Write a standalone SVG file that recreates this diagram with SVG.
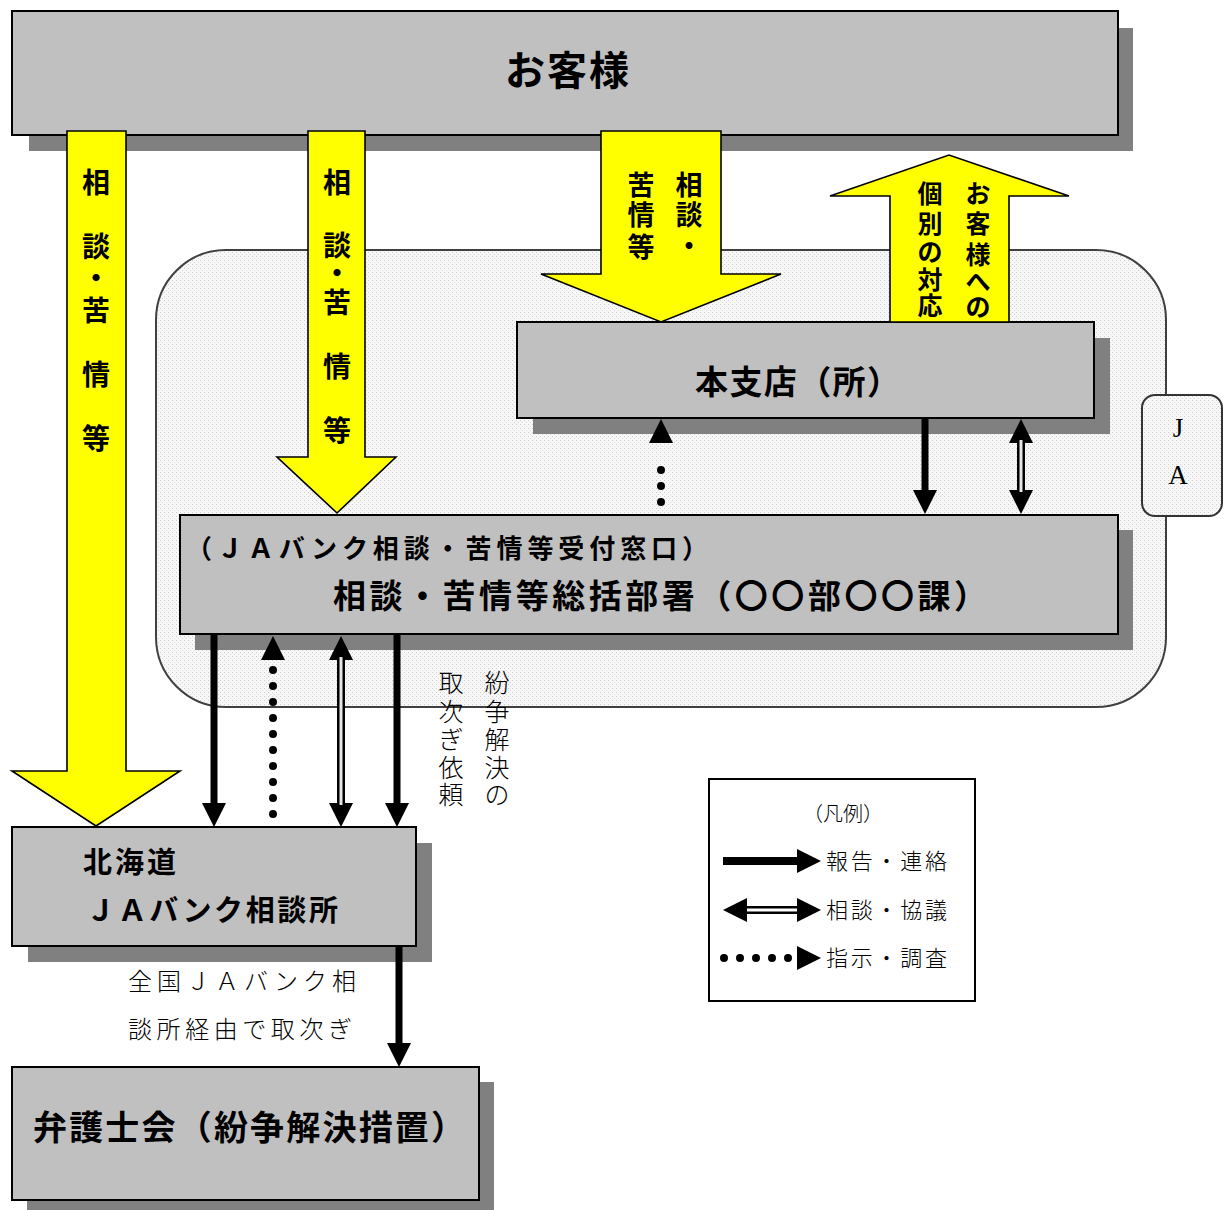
<svg xmlns="http://www.w3.org/2000/svg" width="1226" height="1210" viewBox="0 0 1226 1210">
<style>
.box{fill:#c0c0c0;stroke:#000;stroke-width:2}
.shadow{fill:#808080}
.ya{fill:#ffff00;stroke:#000;stroke-width:1.6;stroke-linejoin:miter}
.g{font-family:"Noto Sans CJK JP","Noto Sans",sans-serif;fill:#000;font-weight:700}
.m{font-family:"Liberation Serif","Noto Sans CJK JP",serif;font-weight:300;fill:#000}
.v{text-anchor:middle;dominant-baseline:central}
.thick{stroke:#000;stroke-width:7;fill:none}
.dbl{stroke:#000;stroke-width:8;fill:none}
.dblin{stroke:#e6e6e6;stroke-width:3;fill:none}
.dot{stroke:#000;stroke-width:8;stroke-linecap:round;stroke-dasharray:0 16;fill:none}
</style>
<defs>
<pattern id="dots" width="4" height="4" patternUnits="userSpaceOnUse">
<rect width="4" height="4" fill="#f7f7f7"/>
<rect width="1" height="1" fill="#cdcdcd"/>
<rect x="2" y="2" width="1" height="1" fill="#d8d8d8"/>
</pattern>
<marker id="ah" viewBox="0 0 24 24" refX="0" refY="12" markerWidth="24" markerHeight="24" markerUnits="userSpaceOnUse" orient="auto-start-reverse">
<path d="M0,0 L24,12 L0,24 z" fill="#000"/>
</marker>
</defs>
<rect width="1226" height="1210" fill="#fff"/>

<g id="ja-container">
<rect x="156" y="250" width="1010" height="457" rx="70" fill="url(#dots)" stroke="#404040" stroke-width="2"/>
</g>
<g id="ja-label">
<rect x="1142" y="395" width="80" height="121" rx="13" fill="url(#dots)" stroke="#333" stroke-width="2"/>
<text x="1178" y="437" class="m" font-size="27" text-anchor="middle">J</text>
<text x="1178" y="484" class="m" font-size="27" text-anchor="middle">A</text>
</g>

<g id="customer">
<rect class="shadow" x="29" y="28" width="1104" height="123"/>
<rect class="box" x="12" y="11" width="1106" height="124"/>
<text x="505" y="85" class="g" font-size="40" textLength="124">お客様</text>
</g>

<g id="branch">
<rect class="shadow" x="533" y="338" width="577" height="96"/>
<rect class="box" x="517" y="322" width="577" height="96"/>
<text x="695" y="394" class="g" font-size="33" textLength="205">本支店（所）</text>
</g>

<g id="dept">
<rect class="shadow" x="195" y="530" width="938" height="120"/>
<rect class="box" x="180" y="515" width="938" height="119"/>
<text x="186" y="558" class="g" font-size="26" textLength="522">（ＪＡバンク相談・苦情等受付窓口）</text>
<text x="333" y="608" class="g" font-size="33" textLength="654">相談・苦情等総括部署（〇〇部〇〇課）</text>
</g>

<g id="hokkaido">
<rect class="shadow" x="28" y="843" width="404" height="119"/>
<rect class="box" x="12" y="827" width="404" height="119"/>
<text x="83" y="873" class="g" font-size="29" textLength="93">北海道</text>
<text x="86" y="921" class="g" font-size="29" textLength="252">ＪＡバンク相談所</text>
</g>

<g id="bengoshi">
<rect class="shadow" x="27" y="1082" width="467" height="133"/>
<rect class="box" x="12" y="1067" width="467" height="133"/>
<text x="33" y="1140" class="g" font-size="34" textLength="432">弁護士会（紛争解決措置）</text>
</g>

<g id="yellow-arrows">
<g id="ya1">
<polygon class="ya" points="67,131 126,131 126,771 180,771 96,826 12,771 67,771"/>
<text class="g v" font-size="28"><tspan x="96" y="181">相</tspan><tspan x="96" y="245">談</tspan><tspan x="96" y="277">・</tspan><tspan x="96" y="309">苦</tspan><tspan x="96" y="373">情</tspan><tspan x="96" y="437">等</tspan></text>
</g>
<g id="ya2">
<polygon class="ya" points="308,131 365,131 365,457 396,457 337,513 277,457 308,457"/>
<text class="g v" font-size="28"><tspan x="337" y="181">相</tspan><tspan x="337" y="244">談</tspan><tspan x="337" y="272">・</tspan><tspan x="337" y="301">苦</tspan><tspan x="337" y="365">情</tspan><tspan x="337" y="429">等</tspan></text>
</g>
<g id="ya3">
<polygon class="ya" points="601,131 721,131 721,274 781,274 661,322 541,274 601,274"/>
<text class="g v" font-size="27"><tspan x="689" y="183">相</tspan><tspan x="689" y="213">談</tspan><tspan x="689" y="244">・</tspan><tspan x="641" y="183">苦</tspan><tspan x="641" y="213">情</tspan><tspan x="641" y="245">等</tspan></text>
</g>
<g id="ya4">
<polygon class="ya" points="890,322 1009,322 1009,196 1069,196 949,155 830,196 890,196"/>
<text class="g v" font-size="25"><tspan x="978" y="192">お</tspan><tspan x="978" y="222">客</tspan><tspan x="978" y="253">様</tspan><tspan x="978" y="280">へ</tspan><tspan x="978" y="305">の</tspan><tspan x="930" y="192">個</tspan><tspan x="930" y="222">別</tspan><tspan x="930" y="250">の</tspan><tspan x="930" y="278">対</tspan><tspan x="930" y="304">応</tspan></text>
</g>
</g>

<g id="connectors">
<line class="dot" x1="661" y1="502" x2="661" y2="454"/>
<polygon points="649,443 673,443 661,419" fill="#000"/>
<line class="thick" x1="925" y1="418" x2="925" y2="490" marker-end="url(#ah)"/>
<line class="dbl" x1="1021" y1="443" x2="1021" y2="490" marker-start="url(#ah)" marker-end="url(#ah)"/>
<line class="dblin" x1="1021" y1="440" x2="1021" y2="492"/>

<line class="thick" x1="214" y1="634" x2="214" y2="803" marker-end="url(#ah)"/>
<line class="dot" x1="273" y1="670" x2="273" y2="815"/>
<polygon points="261,660 285,660 273,636" fill="#000"/>
<line class="dbl" x1="341" y1="660" x2="341" y2="803" marker-start="url(#ah)" marker-end="url(#ah)"/>
<line class="dblin" x1="341" y1="657" x2="341" y2="805"/>
<line class="thick" x1="397" y1="634" x2="397" y2="803" marker-end="url(#ah)"/>

<line class="thick" x1="399" y1="946" x2="399" y2="1043" marker-end="url(#ah)"/>
</g>

<g id="labels">
<text class="m v" font-size="25"><tspan x="497" y="683">紛</tspan><tspan x="497" y="712">争</tspan><tspan x="497" y="740">解</tspan><tspan x="497" y="768">決</tspan><tspan x="497" y="795">の</tspan></text>
<text class="m v" font-size="25"><tspan x="451" y="683">取</tspan><tspan x="451" y="712">次</tspan><tspan x="451" y="740">ぎ</tspan><tspan x="451" y="768">依</tspan><tspan x="451" y="795">頼</tspan></text>
<text x="128" y="990" class="m" font-size="24" textLength="228">全国ＪＡバンク相</text>
<text x="128" y="1038" class="m" font-size="24" textLength="224">談所経由で取次ぎ</text>
</g>

<g id="legend">
<rect x="709" y="779" width="266" height="222" fill="#fff" stroke="#000" stroke-width="2"/>
<text x="843" y="821" class="m" font-size="20" text-anchor="middle">（凡例）</text>
<line x1="723" y1="861" x2="797" y2="861" stroke="#000" stroke-width="8"/>
<polygon points="797,849 821,861 797,873" fill="#000"/>
<text x="826" y="869" class="m" font-size="22" textLength="121">報告・連絡</text>
<line x1="746" y1="910" x2="798" y2="910" stroke="#000" stroke-width="8"/>
<line x1="744" y1="910" x2="800" y2="910" stroke="#fff" stroke-width="3"/>
<polygon points="747,898 723,910 747,922" fill="#000"/>
<polygon points="797,898 821,910 797,922" fill="#000"/>
<text x="826" y="918" class="m" font-size="22" textLength="121">相談・協議</text>
<line x1="724" y1="958" x2="790" y2="958" stroke="#000" stroke-width="8" stroke-linecap="round" stroke-dasharray="0 16"/>
<polygon points="797,946 821,958 797,970" fill="#000"/>
<text x="826" y="966" class="m" font-size="22" textLength="121">指示・調査</text>
</g>
</svg>
